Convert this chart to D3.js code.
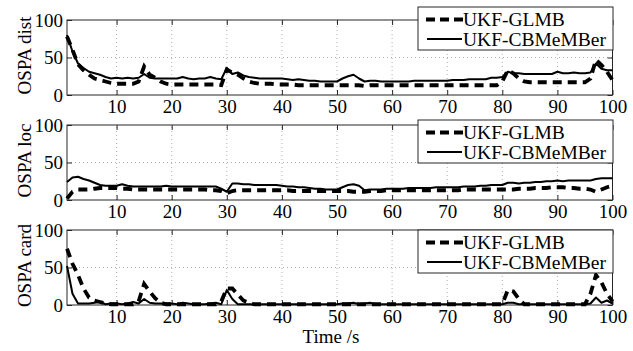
<!DOCTYPE html>
<html>
<head>
<meta charset="utf-8">
<script src="https://cdn.jsdelivr.net/npm/d3@7"></script>
<style>
html,body{margin:0;padding:0;background:#fff;}
svg{display:block;}
text{font-family:"Liberation Serif","Times New Roman",serif;fill:#000;}
</style>
</head>
<body>
<svg id="chart" width="633" height="351"></svg>
<script>
// ---- data ----
const time = d3.range(1, 101);
const xTicks = [10, 20, 30, 40, 50, 60, 70, 80, 90, 100];
const yTicks = [0, 50, 100];
const seriesNames = ["UKF-GLMB", "UKF-CBMeMBer"];
const panelLabels = ["OSPA dist", "OSPA loc", "OSPA card"];
const xLabel = "Time /s";

const distGLMB = [78,60,41,33,27,22,20,18,16,15, 15,15,15,18,38,27,23,18,15,14,
  14,14,14,14,14,14,14,14,13,34, 30,27,22,18,16,15,15,15,14,14,
  14,14,13,13,13,13,13,13,13,13, 13,13,13,13,12,13,13,13,13,13,
  13,13,13,13,13,13,13,13,13,13, 13,13,13,13,13,13,13,13,13,18,
  33,29,22,18,17,17,17,17,17,17, 17,17,17,17,17,22,47,40,31,20];
const distCBM = [80,58,42,36,31,29,27,24,22,23, 22,23,22,23,28,23,22,22,22,22,
  22,24,22,21,22,22,24,22,21,36, 28,30,26,24,23,22,22,22,22,22,
  21,20,21,20,19,19,18,18,18,18, 22,25,27,22,18,19,19,18,18,18,
  18,18,18,19,19,19,19,19,19,19, 20,20,20,21,21,21,21,23,23,24,
  31,29,29,28,28,28,28,28,28,31, 29,29,30,29,29,30,42,35,33,33];
const locGLMB = [2,11,14,14,14,15,16,16,16,16, 15,15,14,14,14,14,14,14,14,14,
  14,14,14,14,14,14,13,13,12,9, 12,13,13,13,13,13,13,13,13,13,
  13,12,12,12,12,12,12,12,12,12, 12,12,11,11,11,12,12,12,13,13,
  13,13,13,13,13,13,13,13,13,13, 13,13,14,14,14,14,14,14,14,14,
  14,14,15,15,15,16,16,16,17,17, 17,16,16,15,15,14,11,14,17,19];
const locCBM = [24,30,31,28,26,23,20,19,19,19, 21,19,18,18,18,18,18,18,19,18,
  18,18,18,18,18,18,18,18,15,11, 22,22,21,21,20,20,20,20,20,19,
  18,18,17,17,16,15,15,14,14,14, 17,20,21,19,13,14,14,14,15,15,
  15,15,16,16,16,16,16,17,17,17, 17,17,18,18,18,19,19,20,20,20,
  23,23,22,23,23,24,24,25,25,26, 25,26,26,26,26,26,28,29,29,29];
const cardGLMB = [75,55,40,22,10,6,4,2,1,1, 1,1,1,5,28,18,9,3,1,1,
  1,1,1,1,1,1,1,1,5,22, 22,14,6,3,1,1,1,1,1,1,
  1,1,1,1,1,1,1,1,1,1, 1,1,1,1,1,1,1,1,1,1,
  1,1,1,1,1,1,1,1,1,1, 1,1,1,1,1,1,1,1,1,1,
  20,18,8,1,1,1,1,1,1,1, 1,1,1,1,1,15,40,30,15,5];
const cardCBM = [52,15,2,2,2,3,4,1,2,2, 1,2,4,2,8,3,2,2,2,2,
  1,3,2,1,1,1,2,3,1,20, 8,1,1,1,1,1,1,1,1,1,
  1,1,1,1,1,1,1,1,1,1, 2,2,3,1,2,3,1,1,1,1,
  1,1,1,1,1,1,1,1,1,1, 1,1,1,1,1,1,1,1,1,1,
  3,3,1,1,1,1,1,1,1,1, 1,1,1,1,1,2,10,3,6,2];

const panels = [
  {label: panelLabels[0], glmb: distGLMB, cbm: distCBM, top: 20, legendTop: 7},
  {label: panelLabels[1], glmb: locGLMB, cbm: locCBM, top: 125, legendTop: 120},
  {label: panelLabels[2], glmb: cardGLMB, cbm: cardCBM, top: 230, legendTop: 230}
];

// ---- layout ----
const svg = d3.select("#chart");
const left = 67, right = 612.5, ph = 75;
const x = d3.scaleLinear().domain([1, 100]).range([left, right]);
const axisColor = "#262626";
const fontSize = 19;

panels.forEach(p => {
  const y = d3.scaleLinear().domain([0, 100]).range([p.top + ph, p.top]);
  const g = svg.append("g");

  // grid
  g.append("g").selectAll("line").data(xTicks.filter(d => d < 100)).join("line")
    .attr("x1", d => x(d)).attr("x2", d => x(d))
    .attr("y1", y(0)).attr("y2", y(100))
    .attr("stroke", "#b0b0b0").attr("stroke-width", 1).attr("stroke-dasharray", "1,3");
  g.append("g").selectAll("line").data(yTicks.filter(d => d > 0 && d < 100)).join("line")
    .attr("x1", left).attr("x2", right)
    .attr("y1", d => y(d)).attr("y2", d => y(d))
    .attr("stroke", "#b0b0b0").attr("stroke-width", 1).attr("stroke-dasharray", "1,3");

  // axes via d3 axis (inward ticks)
  const xb = g.append("g").attr("transform", `translate(0,${y(0)})`)
    .call(d3.axisBottom(x).tickValues(xTicks).tickSizeInner(-5).tickSizeOuter(0).tickPadding(10));
  const xt = g.append("g").attr("transform", `translate(0,${y(100)})`)
    .call(d3.axisTop(x).tickValues(xTicks).tickSizeInner(-5).tickSizeOuter(0).tickFormat(""));
  const yl = g.append("g").attr("transform", `translate(${left},0)`)
    .call(d3.axisLeft(y).tickValues(yTicks).tickSizeInner(-5).tickSizeOuter(0).tickPadding(4));
  const yr = g.append("g").attr("transform", `translate(${right},0)`)
    .call(d3.axisRight(y).tickValues(yTicks).tickSizeInner(-5).tickSizeOuter(0).tickFormat(""));
  [xb, xt, yl, yr].forEach(a => {
    a.attr("font-family", null).attr("font-size", null);
    a.select(".domain").remove();
    a.selectAll(".tick line").attr("stroke", axisColor);
    a.selectAll("text").style("font-family", '"Liberation Serif",serif')
      .style("font-size", fontSize + "px").attr("fill", "#000");
  });
  xb.selectAll("text").attr("dy", "0.71em").attr("y", 5);
  yl.selectAll("text").attr("dy", "0.33em");

  // box
  g.append("rect").attr("x", left).attr("y", p.top).attr("width", right - left).attr("height", ph)
    .attr("fill", "none").attr("stroke", axisColor).attr("stroke-width", 1);

  // lines
  const line = vals => d3.line().x((d, i) => x(time[i])).y(d => y(d))(vals);
  g.append("path").attr("d", line(p.glmb)).attr("fill", "none").attr("stroke", "#000")
    .attr("stroke-width", 3.8).attr("stroke-dasharray", "9,6");
  g.append("path").attr("d", line(p.cbm)).attr("fill", "none").attr("stroke", "#000")
    .attr("stroke-width", 2).attr("stroke-linejoin", "round");

  // y label
  g.append("text")
    .attr("transform", `translate(31,${p.top + ph / 2 - 2}) rotate(-90)`)
    .attr("text-anchor", "middle")
    .style("font-size", fontSize + "px")
    .text(p.label);

  // legend
  const lg = g.append("g").attr("transform", `translate(418,${p.legendTop})`);
  lg.append("rect").attr("x", 0).attr("y", 0).attr("width", right - 418 + 0.5).attr("height", 43)
    .attr("fill", "#fff").attr("stroke", axisColor).attr("stroke-width", 1);
  lg.append("line").attr("x1", 8).attr("x2", 45).attr("y1", 12.5).attr("y2", 12.5)
    .attr("stroke", "#000").attr("stroke-width", 3.8).attr("stroke-dasharray", "9,5");
  lg.append("line").attr("x1", 9).attr("x2", 44).attr("y1", 32).attr("y2", 32)
    .attr("stroke", "#000").attr("stroke-width", 2);
  lg.append("text").attr("x", 45).attr("y", 19).style("font-size", "19.5px").text(seriesNames[0]);
  lg.append("text").attr("x", 45).attr("y", 38.5).style("font-size", "19.5px").text(seriesNames[1]);
});

svg.append("text").attr("x", 331).attr("y", 343).attr("text-anchor", "middle")
  .style("font-size", fontSize + "px").text(xLabel);
</script>
</body>
</html>
